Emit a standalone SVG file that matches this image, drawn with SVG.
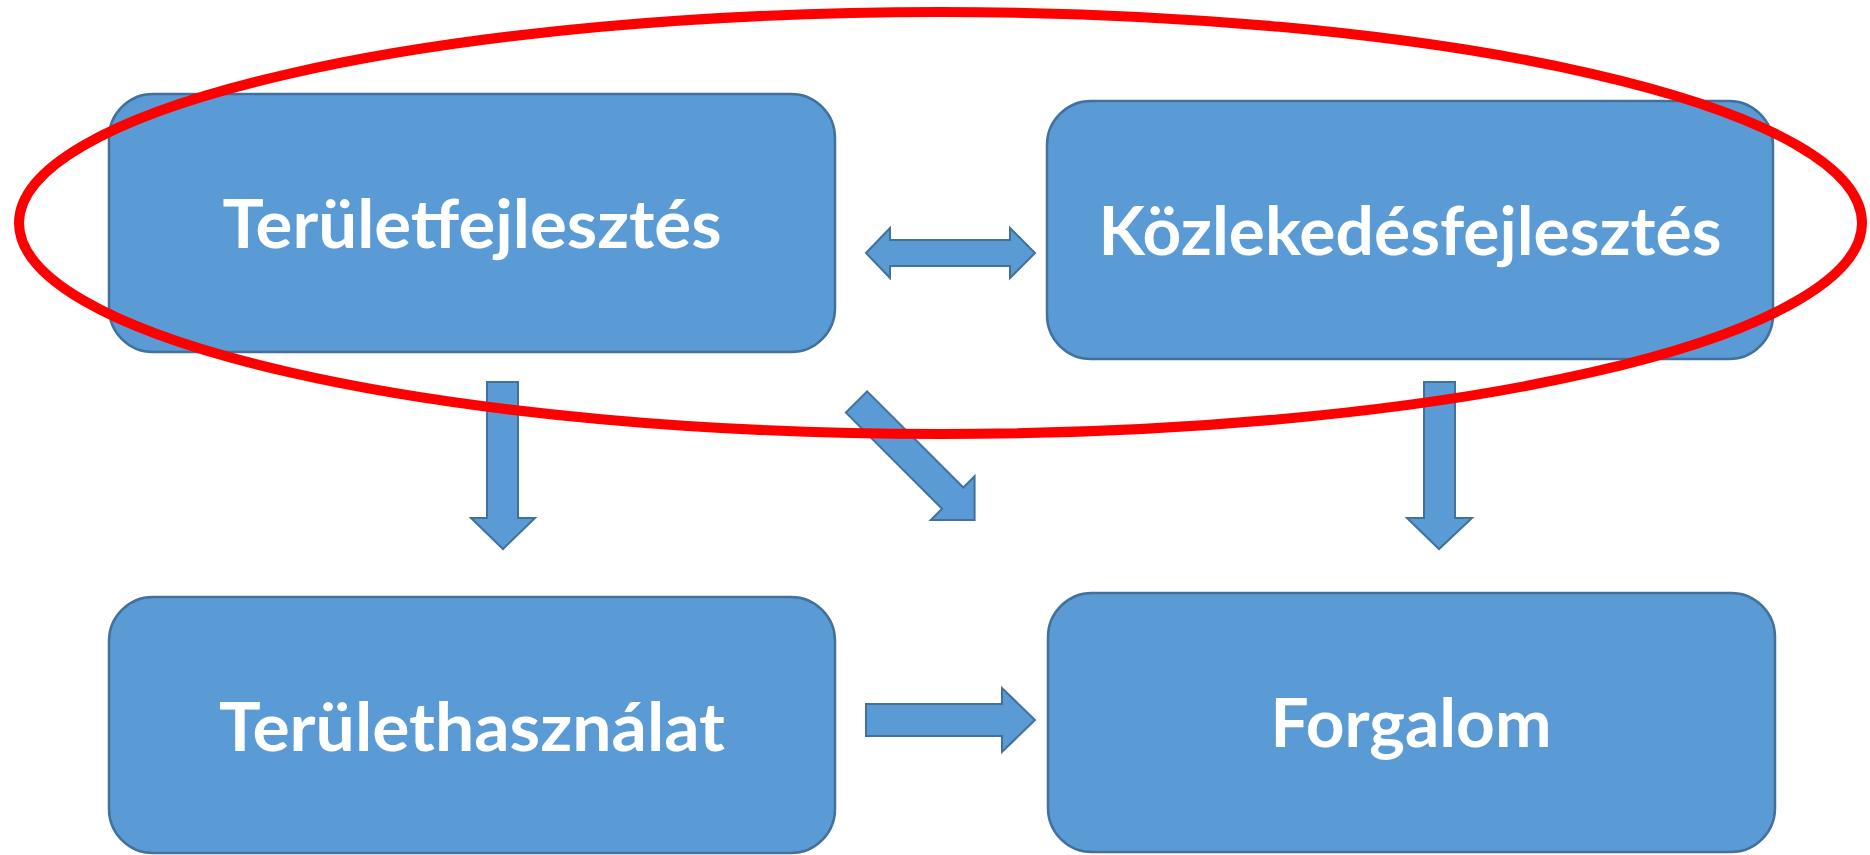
<svg xmlns="http://www.w3.org/2000/svg" width="1870" height="855" viewBox="0 0 1870 855">
<style>
.box{fill:#5B9BD5;stroke:#41719C;stroke-width:2.5}
.arr{fill:#5B9BD5;stroke:#41719C;stroke-width:2;stroke-linejoin:miter}
.lbl{font-family:Lato,"Open Sans","Liberation Sans",sans-serif;font-weight:bold;font-size:66px;fill:#FFFFFF;text-anchor:middle}
.ring{fill:none;stroke:#FF0000;stroke-width:10}
</style>
<rect width="1870" height="855" fill="#FFFFFF"/>
<g id="node-teruletfejlesztes">
<rect class="box" x="109" y="94" width="726" height="258" rx="44" ry="44"/>
<text class="lbl" x="472" y="248" textLength="499" lengthAdjust="spacingAndGlyphs">Területfejlesztés</text>
</g>
<g id="node-kozlekedesfejlesztes">
<rect class="box" x="1047" y="101" width="726" height="258" rx="44" ry="44"/>
<text class="lbl" x="1410" y="255" textLength="623" lengthAdjust="spacingAndGlyphs">Közlekedésfejlesztés</text>
</g>
<g id="node-teruelethasznalat">
<rect class="box" x="109" y="597" width="726" height="256" rx="44" ry="44"/>
<text class="lbl" x="472" y="751" textLength="506" lengthAdjust="spacingAndGlyphs">Területhasználat</text>
</g>
<g id="node-forgalom">
<rect class="box" x="1048" y="593" width="727" height="259" rx="44" ry="44"/>
<text class="lbl" x="1411" y="747" textLength="281" lengthAdjust="spacingAndGlyphs">Forgalom</text>
</g>
<g id="connectors">
<polygon class="arr" points="866,253 890,228 890,240 1010,240 1010,228 1035,253 1010,278 1010,266 890,266 890,278"/>
<polygon class="arr" points="487,382 518,382 518,518 535,518 503,549 471,518 487,518"/>
<polygon class="arr" points="1424,382 1455,382 1455,518 1472,518 1439,549 1407,518 1424,518"/>
<polygon class="arr" transform="translate(856.5,402) rotate(45)" points="0,-15 136,-15 136,-31 167,0 136,31 136,15 0,15"/>
<polygon class="arr" points="866,704 1002,704 1002,688 1035,720 1002,752 1002,736 866,736"/>
</g>
<ellipse class="ring" cx="940.5" cy="223" rx="921.5" ry="211"/>
</svg>
